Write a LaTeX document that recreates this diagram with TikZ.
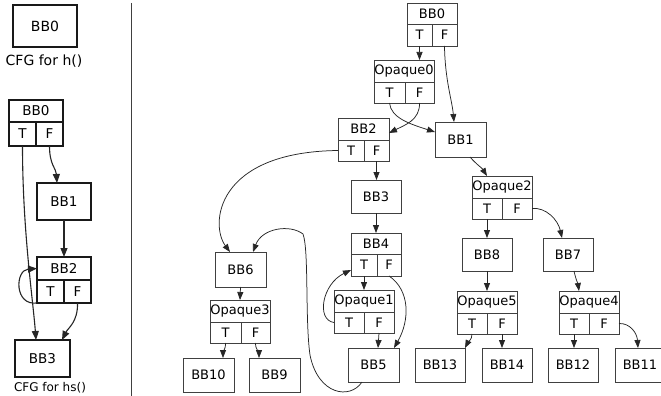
\documentclass[tikz,border=0pt]{standalone}
\usepackage{fontspec}
\setmainfont{DejaVu Sans}
\usetikzlibrary{arrows.meta}

% plain basic block: [style] name, text, x1, y1, x2, y2
\newcommand\bbnode[7][]{%
  \node[cell,#1,minimum width={(#6-#4)*1pt},minimum height={(#7-#5)*1pt}]
    (#2) at ({(#4+#6)/2},{(#5+#7)/2}) {#3};}
% branch block with T|F ports: [style] name, text, x1, y1, x2, y2, divider y, split x
\newcommand\recnode[9][]{%
  \node[cell,#1,minimum width={(#6-#4)*1pt},minimum height={(#8-#5)*1pt}]
    (#2) at ({(#4+#6)/2},{(#5+#8)/2}) {#3};
  \node[cell,#1,minimum width={(#9-#4)*1pt},minimum height={(#7-#8)*1pt}]
    (#2T) at ({(#4+#9)/2},{(#8+#7)/2}) {T};
  \node[cell,#1,minimum width={(#6-#9)*1pt},minimum height={(#7-#8)*1pt}]
    (#2F) at ({(#9+#6)/2},{(#8+#7)/2}) {F};}

\begin{document}
\begin{tikzpicture}[x=1pt,y=-1pt,
  cell/.style={draw=black!75,line width=0.75pt,inner sep=0pt,outer sep=0pt,
    font=\fontsize{13}{15}\selectfont},
  lcell/.style={draw=black!90,line width=1.2pt,font=\fontsize{13.5}{15}\selectfont},
  arr/.style={draw=black!85,line width=0.75pt,-{Triangle[length=8pt,width=6pt]}},
  larr/.style={draw=black!85,line width=1.1pt,-{Triangle[length=9pt,width=7pt]}},
  caption/.style={inner sep=0pt,anchor=base}]
\useasboundingbox (0,0) rectangle (661,396);

% ---------- CFG for h() ----------
\bbnode[lcell,font=\fontsize{14}{16}\selectfont]{hBB0}{BB0}{13}{5}{77}{47}
\node[caption,font=\fontsize{14}{16}\selectfont] (hcap) at (44,66) {CFG for h()};

% ---------- CFG for hs() ----------
\recnode[lcell]{sBB0}{BB0}{9}{100}{63}{146}{122}{36}
\bbnode[lcell]{sBB1}{BB1}{37}{183}{91}{220}
\recnode[lcell]{sBB2}{BB2}{37}{257}{91}{303}{280}{64}
\bbnode[lcell]{sBB3}{BB3}{15}{340}{70}{377}
\node[caption,font=\fontsize{12}{14}\selectfont] (scap) at (50,391) {CFG for hs()};

\draw[larr] (sBB0T.south) .. controls (22.5,230) and (33,300) .. (sBB3.north -| 36,0);
\draw[larr] (sBB0F.south) .. controls (49.5,165) and (56,168) .. (sBB1.north -| 57,0);
\draw[larr] (sBB1.south) -- (sBB2.north);
\draw[larr] (sBB2T.south west) .. controls (14,306) and (15,270) .. (sBB2.west);
\draw[larr] (sBB2F.south) .. controls (78,322) and (68,328) .. (sBB3.north -| 62,0);

% separator between the two panels
\draw[line width=1pt,black!75] (131,3) -- (131,396);

% ---------- main CFG ----------
\recnode{rBB0}{BB0}{407}{3}{457}{46}{24}{432}
\recnode{rOp0}{Opaque0}{374}{60}{434}{103}{82}{405}
\recnode{rBB2}{BB2}{338}{118}{389}{161}{140}{364}
\bbnode{rBB1}{BB1}{435}{122}{486}{157}
\bbnode{rBB3}{BB3}{351}{180}{401}{213}
\recnode{rBB4}{BB4}{351}{233}{401}{276}{254}{377}
\recnode{rOp1}{Opaque1}{334}{290}{394}{333}{312}{364}
\bbnode{rBB5}{BB5}{348}{348}{399}{382}
\bbnode{rBB6}{BB6}{215}{252}{266}{287}
\recnode{rOp3}{Opaque3}{210}{300}{270}{343}{322}{241}
\bbnode{rBB10}{BB10}{183}{358}{234}{392}
\bbnode{rBB9}{BB9}{249}{358}{300}{392}
\recnode{rOp2}{Opaque2}{472}{176}{532}{219}{198}{502}
\bbnode{rBB8}{BB8}{462}{238}{512}{271}
\bbnode{rBB7}{BB7}{543}{238}{593}{271}
\recnode{rOp5}{Opaque5}{457}{291}{517}{334}{313}{487}
\recnode{rOp4}{Opaque4}{559}{291}{619}{334}{313}{589}
\bbnode{rBB13}{BB13}{415}{348}{465}{382}
\bbnode{rBB14}{BB14}{482}{348}{532}{382}
\bbnode{rBB12}{BB12}{548}{348}{598}{382}
\bbnode{rBB11}{BB11}{615}{348}{665}{382}

\draw[arr] (rBB0T.south) -- (rBB0T.south |- rOp0.north);
\draw[arr] (rBB0F.south) .. controls (445,80) and (452,100) .. (rBB1.north -| 454,0);
\draw[arr] (rOp0T.south) .. controls (391,118) and (410,124) .. (rBB1.west |- 0,132);
\draw[arr] (rOp0F.south) .. controls (420,120) and (405,125) .. (rBB2.east |- 0,133);
\draw[arr] (rBB2T.west) .. controls (215,152) and (210,225) .. (rBB6.north -| 230,0);
\draw[arr] (rBB2F.south) -- (rBB2F.south |- rBB3.north);
\draw[arr] (rBB3.south) -- (rBB4.north);
\draw[arr] (rBB4T.south) -- (rBB4T.south |- rOp1.north);
\draw[arr] (rBB4F.south) .. controls (410,290) and (410,320) .. (rBB5.north -| 394,0);
\draw[arr] (rOp1T.west) .. controls (316,320) and (322,284) .. (rBB4T.west |- 0,270);
\draw[arr] (rOp1F.south) -- (rBB5.north -| 378,0);
\draw[arr] (rBB5.south -| 362,0) .. controls (350,400) and (318,395) .. (310,355)
  .. controls (305,320) and (309,250) .. (303,234)
  .. controls (290,224) and (262,228) .. (rBB6.north -| 253,0);
\draw[arr] (rBB6.south) -- (rOp3.north);
\draw[arr] (rOp3T.south) .. controls (225.5,350) and (223,352) .. (rBB10.north -| 223,0);
\draw[arr] (rOp3F.south) .. controls (255.5,350) and (259,352) .. (rBB9.north -| 259,0);
\draw[arr] (rBB1.south -| 470,0) .. controls (476,164) and (482,168) .. (rOp2.north -| 487,0);
\draw[arr] (rOp2T.south) -- (rOp2T.south |- rBB8.north);
\draw[arr] (rOp2F.east) .. controls (546,207) and (558,220) .. (rBB7.north -| 562,0);
\draw[arr] (rBB8.south) -- (rBB8.south |- rOp5.north);
\draw[arr] (rBB7.south -| 574,0) .. controls (576,280) and (578,284) .. (rOp4.north -| 579,0);
\draw[arr] (rOp5T.south) .. controls (472,340) and (468,342) .. (rBB13.north east);
\draw[arr] (rOp5F.south) -- (rOp5F.south |- rBB14.north);
\draw[arr] (rOp4T.south) -- (rOp4T.south |- rBB12.north);
\draw[arr] (rOp4F.east) .. controls (630,323) and (637,333) .. (rBB11.north -| 638,0);
\end{tikzpicture}
\end{document}
